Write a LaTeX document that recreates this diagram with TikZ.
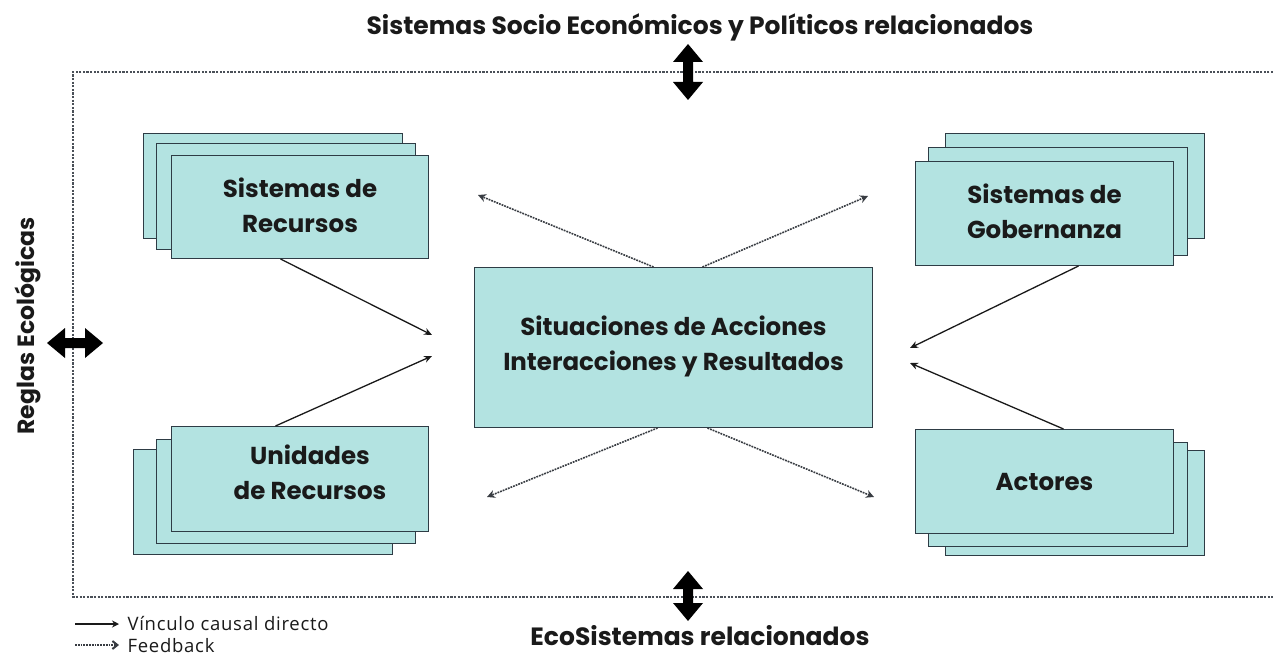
\documentclass[tikz,border=0pt]{standalone}
\usepackage{fontspec}
\setmainfont{Poppins}
\newfontfamily\legendfont{Open Sans}[LetterSpace=4]
\usetikzlibrary{arrows.meta,calc}
\definecolor{cardfill}{HTML}{B3E3E1}
\definecolor{carddraw}{HTML}{2E3C45}
\definecolor{inkc}{HTML}{1A1A1A}
\definecolor{framec}{HTML}{4A5058}
\definecolor{fbc}{HTML}{383C42}
\tikzset{
  x=1pt, y=-1pt,
  card/.style={draw=carddraw, fill=cardfill, line width=1pt, anchor=north west, inner sep=0pt},
  cardtext/.style={font=\bfseries\fontsize{24.5}{35}\selectfont, text=inkc, align=center},
  causal/.style={draw=inkc, line width=1.3pt, -{Stealth[length=8pt,width=7pt]}},
  feedback/.style={draw=fbc, line width=1.6pt, dash pattern=on 1.8pt off 1.0pt, -{Stealth[length=8pt,width=8pt]}},
  frameline/.style={draw=framec, line width=1.2pt, dash pattern=on 2.2pt off 1.4pt},
  lbl/.style={font=\bfseries\fontsize{25}{28}\selectfont, text=inkc},
  dblarrow/.pic={
    \fill[black] (0,-#1) -- (15,-#1+18) -- (5,-#1+18) -- (5,#1-18) -- (15,#1-18) -- (0,#1)
      -- (-15,#1-18) -- (-5,#1-18) -- (-5,-#1+18) -- (-15,-#1+18) -- cycle;
  }
}
\begin{document}
\begin{tikzpicture}
\useasboundingbox[fill=white] (0,0) rectangle (1273,655);

% frame
\draw[frameline] (1273,72) -- (73,72) -- (73,597) -- (1273,597);

% outer labels
\node[lbl] (title) at (700,27) {Sistemas Socio Económicos y Políticos relacionados};
\node[lbl] (eco) at (700,636) {EcoSistemas relacionados};
\node[lbl, font=\bfseries\fontsize{23.5}{28}\selectfont, rotate=90] (reglas) at (28,326) {Reglas Ecológicas};

% double arrows
\pic at (688,72) {dblarrow=28};
\pic at (688,596) {dblarrow=25};
\pic[rotate=90] at (75,343) {dblarrow=28};

% Sistemas de Recursos
\node[card, minimum width=259pt, minimum height=105pt] (srB) at (143,133) {};
\node[card, minimum width=259pt, minimum height=106pt] (srM) at (156,143) {};
\node[card, minimum width=257pt, minimum height=103pt] (srF) at (171,155) {};
\node[cardtext] (srT) at ([yshift=2pt]srF.center) {Sistemas de\\Recursos};

% Sistemas de Gobernanza
\node[card, minimum width=259pt, minimum height=105pt] (sgB) at (945,133) {};
\node[card, minimum width=259pt, minimum height=108pt] (sgM) at (928,147) {};
\node[card, minimum width=258pt, minimum height=104pt] (sgF) at (915,161) {};
\node[cardtext] (sgT) at ([yshift=2pt]sgF.center) {Sistemas de\\Gobernanza};

% Unidades de Recursos
\node[card, minimum width=259pt, minimum height=105pt] (urB) at (133,449) {};
\node[card, minimum width=259pt, minimum height=104pt] (urM) at (156,439) {};
\node[card, minimum width=257pt, minimum height=105pt] (urF) at (171,426) {};
\node[cardtext] (urT) at ([yshift=7pt, xshift=10pt]urF.center) {Unidades\\de Recursos};

% Actores
\node[card, minimum width=259pt, minimum height=105pt] (acB) at (945,450) {};
\node[card, minimum width=259pt, minimum height=104pt] (acM) at (928,442) {};
\node[card, minimum width=258pt, minimum height=104pt] (acF) at (915,429) {};
\node[cardtext] (acT) at (acF.center) {Actores};

% Centre
\node[card, minimum width=398pt, minimum height=160pt] (ctr) at (474,267) {};
\node[cardtext] (ctrT) at ([yshift=1pt]ctr.center) {Situaciones de Acciones\\Interacciones y Resultados};

% free ends
\coordinate (e1) at (432,335);
\coordinate (e2) at (432,356);
\coordinate (e3) at (910,348);
\coordinate (e4) at (910,363);
\coordinate (f1) at (478,195);
\coordinate (f2) at (868,196);
\coordinate (f3) at (487,497);
\coordinate (f4) at (874,497);

% causal links
\draw[causal] ([xshift=-19.5pt]srF.south) -- (e1);
\draw[causal] ([xshift=-24.5pt]urF.north) -- (e2);
\draw[causal] ([xshift=34pt]sgF.south) -- (e3);
\draw[causal] ([xshift=19pt]acF.north) -- (e4);

% feedback
\draw[feedback] ([xshift=-20pt]ctr.north) -- (f1);
\draw[feedback] ([xshift=29pt]ctr.north) -- (f2);
\draw[feedback] ([xshift=-16pt]ctr.south) -- (f3);
\draw[feedback] ([xshift=34pt]ctr.south) -- (f4);

% legend
\coordinate (l1a) at (75,624);
\coordinate (l1b) at (119,624);
\coordinate (l2a) at (75,645);
\coordinate (l2b) at (119,645);
\draw[causal, line width=1.6pt, -{Stealth[length=7pt,width=7pt]}] (l1a) -- (l1b);
\draw[feedback, line width=1.8pt, -{Straight Barb[length=5pt,width=8pt,line width=2pt]}] (l2a) -- (l2b);
\node[font=\legendfont\fontsize{18.5}{20}\selectfont, text=inkc, anchor=west] (lg1) at (124,623) {Vínculo causal directo};
\node[font=\legendfont\fontsize{18.5}{20}\selectfont, text=inkc, anchor=west] (lg2) at (124,646) {Feedback};
\end{tikzpicture}
\end{document}
